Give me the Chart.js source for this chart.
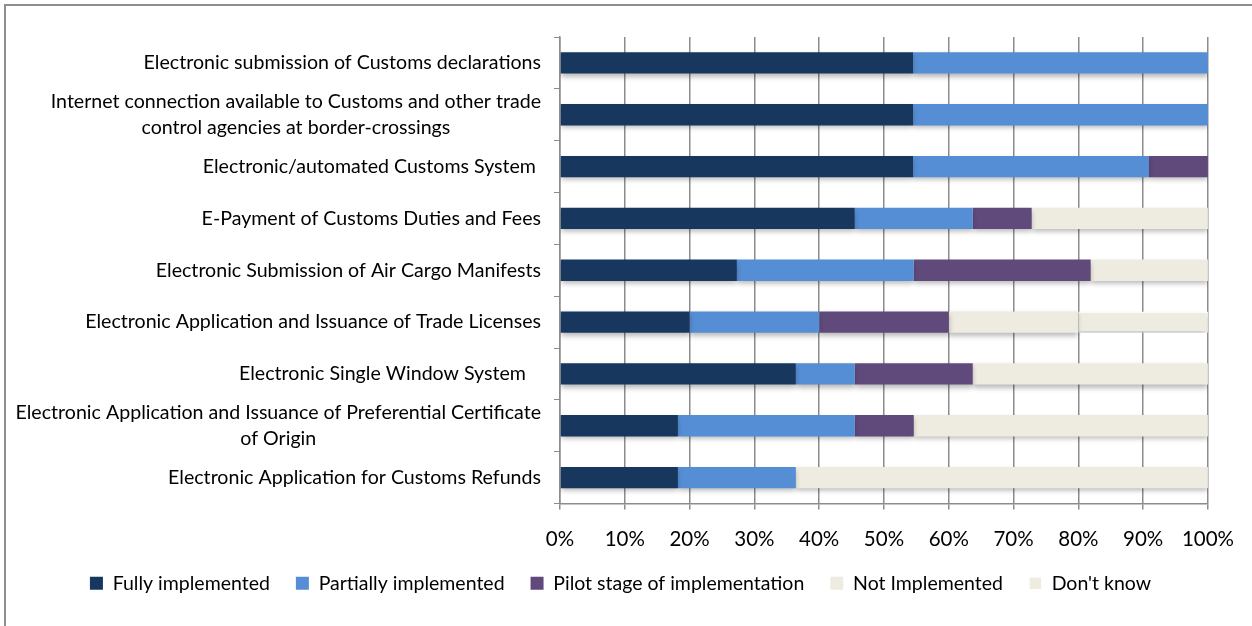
<!DOCTYPE html>
<html>
<head>
<meta charset="utf-8">
<script src="https://cdn.jsdelivr.net/npm/chart.js@4.4.1/dist/chart.umd.min.js"></script>
<style>
    html, body { margin: 0; padding: 0; background: #fff; overflow: hidden; }
    #wrap { position: relative; width: 1252px; height: 626px; }
    #frame { position: absolute; left: 4px; top: 4px; width: 1400px; height: 800px; border: 2px solid #8e8e8e; }
    #chart { position: absolute; left: 0; top: 0; }
</style>
</head>
<body>
<div id="wrap">
    <div id="frame"></div>
    <canvas id="chart" width="1252" height="626"></canvas>
</div>
<script>
const categories = [
    ['Electronic submission of Customs declarations'],
    ['Internet connection available to Customs and other trade', 'control agencies at border-crossings'],
    ['Electronic/automated Customs System '],
    ['E-Payment of Customs Duties and Fees'],
    ['Electronic Submission of Air Cargo Manifests'],
    ['Electronic Application and Issuance of Trade Licenses'],
    ['Electronic Single Window System   '],
    ['Electronic Application and Issuance of Preferential Certificate', 'of Origin'],
    ['Electronic Application for Customs Refunds']
];

const fullyImplemented     = [54.5, 54.5, 54.5, 45.5, 27.3, 20, 36.4, 18.2, 18.2];
const partiallyImplemented = [45.5, 45.5, 36.4, 18.2, 27.3, 20,  9.1, 27.3, 18.2];
const pilotStage           = [   0,    0,  9.1,  9.1, 27.3, 20, 18.2,  9.1,    0];
const notImplemented       = [   0,    0,    0, 27.2, 18.1, 20, 36.3, 45.4, 63.6];
const dontKnow             = [   0,    0,    0,    0,    0, 20,    0,    0,    0];

const xTicks = [0, 10, 20, 30, 40, 50, 60, 70, 80, 90, 100];

const FONT = 'Lato, "Noto Sans", sans-serif';
const GRID = '#8c8c8c';

// soft drop shadow under the bars
const barShadow = {
    id: 'barShadow',
    beforeDatasetsDraw(chart) {
        const ctx = chart.ctx;
        ctx.save();
        ctx.shadowColor = 'rgba(0,0,0,0.28)';
        ctx.shadowBlur = 5;
        ctx.shadowOffsetY = 3;
    },
    afterDatasetsDraw(chart) {
        chart.ctx.restore();
    }
};

// category labels: right edge at the axis, wrapped lines centred on each other
const yLabels = {
    id: 'yLabels',
    afterDraw(chart) {
        const ctx = chart.ctx;
        const y = chart.scales.y;
        const lineH = 26;
        ctx.save();
        ctx.font = '19.6px ' + FONT;
        ctx.fillStyle = '#000';
        ctx.textAlign = 'center';
        ctx.textBaseline = 'middle';
        categories.forEach((lines, i) => {
            const widest = Math.max(...lines.map(l => ctx.measureText(l).width));
            const cx = y.right - 19 - widest / 2;
            const cy = y.getPixelForTick(i);
            const top = cy - (lines.length - 1) * lineH / 2;
            lines.forEach((l, k) => ctx.fillText(l, cx, top + k * lineH));
        });
        ctx.restore();
    }
};

const ctx = document.getElementById('chart').getContext('2d');
new Chart(ctx, {
    type: 'bar',
    data: {
        labels: categories,
        datasets: [
            { label: 'Fully implemented', data: fullyImplemented, backgroundColor: '#17375e' },
            { label: 'Partially implemented', data: partiallyImplemented, backgroundColor: '#558ed5' },
            { label: 'Pilot stage of implementation', data: pilotStage, backgroundColor: '#604a7b' },
            { label: 'Not Implemented', data: notImplemented, backgroundColor: '#eeece1' },
            { label: "Don't know", data: dontKnow, backgroundColor: '#eeece1', borderColor: '#ffffff', borderWidth: 1.5 }
        ]
    },
    options: {
        indexAxis: 'y',
        responsive: false,
        animation: false,
        layout: { padding: { left: 30, right: 41, top: 37, bottom: 23 } },
        datasets: { bar: { barPercentage: 0.41, categoryPercentage: 1 } },
        plugins: {
            tooltip: { enabled: false },
            legend: {
                position: 'bottom',
                labels: {
                    font: { family: FONT, size: 19.5 },
                    color: '#000',
                    boxWidth: 13,
                    boxHeight: 13,
                    padding: 26
                }
            }
        },
        scales: {
            x: {
                stacked: true,
                min: 0,
                max: 100,
                afterBuildTicks(scale) {
                    scale.ticks = xTicks.map(v => ({ value: v }));
                },
                afterFit(scale) { scale.height = 44; },
                grid: { color: GRID, lineWidth: 1.5, tickLength: 6, tickColor: GRID },
                border: { color: GRID, width: 1.5 },
                ticks: {
                    font: { family: FONT, size: 20.5 },
                    color: '#000',
                    padding: 18,
                    callback: v => v + '%'
                }
            },
            y: {
                stacked: true,
                afterFit(scale) { scale.width = 530; },
                grid: { drawOnChartArea: false, tickLength: 6, tickColor: GRID, offset: true },
                border: { color: GRID, width: 1.5 },
                ticks: { display: false }
            }
        }
    },
    plugins: [barShadow, yLabels]
});
</script>
</body>
</html>
